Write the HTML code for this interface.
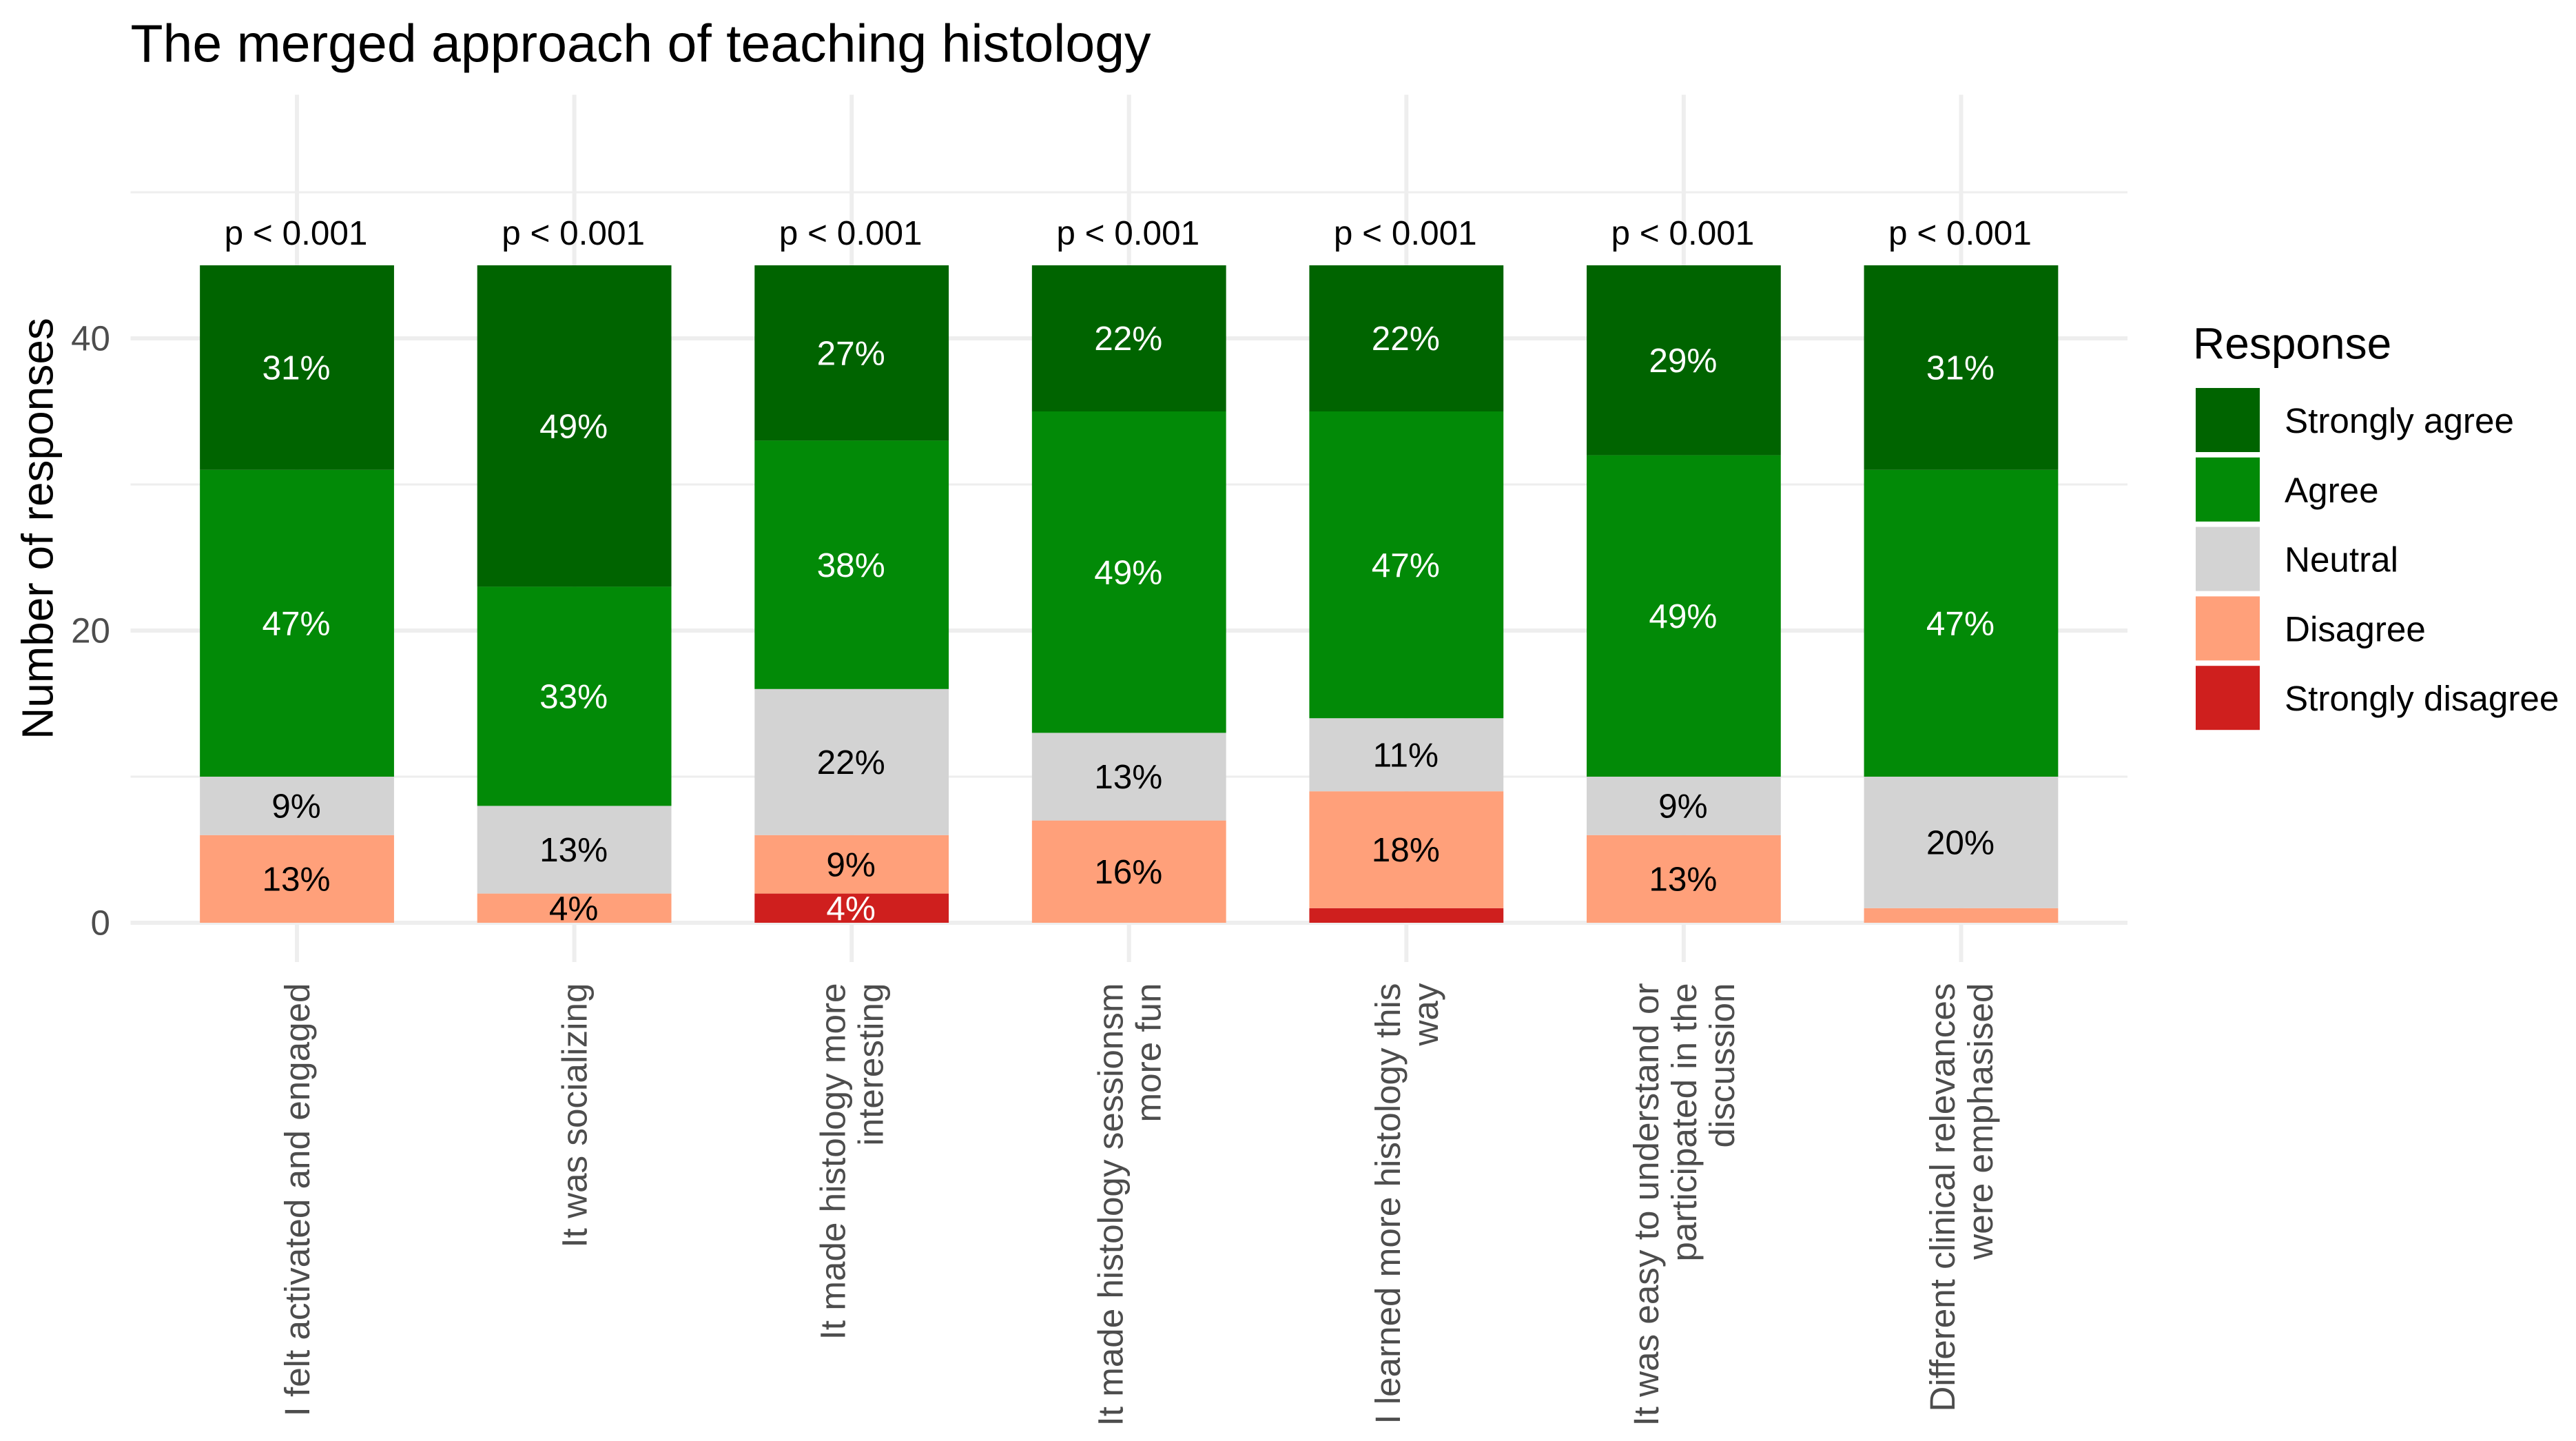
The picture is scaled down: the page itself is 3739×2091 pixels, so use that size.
<!DOCTYPE html>
<html lang="en">
<head>
<meta charset="utf-8">
<title>The merged approach of teaching histology</title>
<style>
  html, body { margin: 0; padding: 0; background: #ffffff; }
  body { width: 3739px; height: 2091px; overflow: hidden; }
  svg { display: block; }
  text { font-family: "Liberation Sans", Arial, sans-serif; }
</style>
</head>
<body>
<svg id="chart" xmlns="http://www.w3.org/2000/svg" width="3739" height="2091" viewBox="0 0 3739 2091">
  <rect x="0" y="0" width="3739" height="2091" fill="#ffffff"/>
  <text x="189.5" y="89.3" font-size="77" fill="#000000">The merged approach of teaching histology</text>
  <g id="grid"></g>
  <g id="bars"></g>
  <g id="value-labels"></g>
  <g id="p-labels"></g>
  <g id="y-axis"></g>
  <g id="x-axis"></g>
  <text transform="translate(76.5 767) rotate(-90)" text-anchor="middle" font-size="64" fill="#000000">Number of responses</text>
  <g id="legend">
    <text x="3183" y="520.5" font-size="64" fill="#000000">Response</text>
  </g>
</svg>
<script>
// ---- chart data ----
const categoryLines = [
  ["I felt activated and engaged"],
  ["It was socializing"],
  ["It made histology more", "interesting"],
  ["It made histology sessionsm", "more fun"],
  ["I learned more histology this", "way"],
  ["It was easy to understand or", "participated in the", "discussion"],
  ["Different clinical relevances", "were emphasised"]
];
const seriesNames = ["Strongly disagree", "Disagree", "Neutral", "Agree", "Strongly agree"];
const stronglyDisagree = [0, 0, 2, 0, 1, 0, 0];
const disagree = [6, 2, 4, 7, 8, 6, 1];
const neutral = [4, 6, 10, 6, 5, 4, 9];
const agree = [21, 15, 17, 22, 21, 22, 21];
const stronglyAgree = [14, 22, 12, 10, 10, 13, 14];
const pValues = ["p < 0.001", "p < 0.001", "p < 0.001", "p < 0.001", "p < 0.001", "p < 0.001", "p < 0.001"];
const yMajorTicks = [0, 20, 40];
const yMinorTicks = [10, 30, 50];
const legendOrder = ["Strongly agree", "Agree", "Neutral", "Disagree", "Strongly disagree"];

// ---- appearance ----
const seriesValues = [stronglyDisagree, disagree, neutral, agree, stronglyAgree];
const fills = {"Strongly agree": "#006400", "Agree": "#028A07", "Neutral": "#D3D3D3", "Disagree": "#FFA07A", "Strongly disagree": "#CF1F1E"};
const labelColors = {"Strongly agree": "#ffffff", "Agree": "#ffffff", "Neutral": "#000000", "Disagree": "#000000", "Strongly disagree": "#ffffff"};
const panel = {left: 189.5, right: 3088, top: 137.5, bottom: 1396};
const SVGNS = "http://www.w3.org/2000/svg";

// ---- axis functions ----
function xScale(i) {
  const domainMin = 0.4, domainMax = categoryLines.length + 0.6;
  return panel.left + ((i + 1) - domainMin) / (domainMax - domainMin) * (panel.right - panel.left);
}
function yScale(v) {
  return 1339 - v * 21.2;
}
const bandWidth = (panel.right - panel.left) / (categoryLines.length + 0.2);
const barWidth = bandWidth * 0.7;

function make(tag, attrs, parent, content) {
  const el = document.createElementNS(SVGNS, tag);
  for (const k in attrs) el.setAttribute(k, attrs[k]);
  if (content !== undefined) el.textContent = content;
  parent.appendChild(el);
  return el;
}
const gridG = document.getElementById("grid");
const barsG = document.getElementById("bars");
const valG = document.getElementById("value-labels");
const pG = document.getElementById("p-labels");
const yG = document.getElementById("y-axis");
const xG = document.getElementById("x-axis");
const legendG = document.getElementById("legend");

// ---- grid ----
yMinorTicks.forEach(function (t) {
  const line = make("line", {x1: panel.left, x2: panel.right, y1: yScale(t), y2: yScale(t), stroke: "#EEEEEE", "stroke-width": 3}, gridG);
  
  
});
yMajorTicks.forEach(function (t) {
  const line = make("line", {x1: panel.left, x2: panel.right, y1: yScale(t), y2: yScale(t), stroke: "#EEEEEE", "stroke-width": 6}, gridG);
  
  
});
categoryLines.forEach(function (c, i) {
  const line = make("line", {x1: xScale(i), x2: xScale(i), y1: panel.top, y2: panel.bottom, stroke: "#EEEEEE", "stroke-width": 6}, gridG);
  
  
});

// ---- stacked bars and labels ----
categoryLines.forEach(function (c, i) {
  const total = seriesValues.reduce(function (sum, s) { return sum + s[i]; }, 0);
  let base = 0;
  seriesValues.forEach(function (s, k) {
    const v = s[i];
    if (v <= 0) return;
    const name = seriesNames[k];
    const slug = name.toLowerCase().replace(/ /g, '-');
    const rect = make("rect", {x: xScale(i) - barWidth / 2, y: yScale(base + v), width: barWidth, height: yScale(base) - yScale(base + v), fill: fills[name]}, barsG);
    
    
    const pct = Math.round(v / total * 100);
    if (pct >= 3) {
      const label = make("text", {x: xScale(i) - 1, y: yScale(base + v / 2) + 17.2, "text-anchor": "middle", "font-size": 49.5, fill: labelColors[name]}, valG, pct + "%");
      
      
    }
    base += v;
  });
  const p = make("text", {x: xScale(i) - 1.5, y: yScale(total) - 30, "text-anchor": "middle", "font-size": 49.5, fill: "#000000"}, pG, pValues[i]);
  
  
});

// ---- y axis ----
yMajorTicks.forEach(function (t) {
  const tick = make("text", {x: 160, y: yScale(t) + 17.5, "text-anchor": "end", "font-size": 51.2, fill: "#4D4D4D"}, yG, String(t));
  
  
});

// ---- x axis ----
categoryLines.forEach(function (lines, i) {
  const lineGap = 55;
  const firstOffset = 18 - (lines.length - 1) * lineGap / 2;
  lines.forEach(function (ln, j) {
    const bx = xScale(i) + firstOffset + j * lineGap;
    const t = make("text", {transform: "translate(" + bx + " 1426.5) rotate(-90)", "text-anchor": "end", "font-size": 51.2, fill: "#4D4D4D"}, xG, ln);
    
    
  });
});

// ---- legend ----
legendOrder.forEach(function (name, i) {
  const slug = name.toLowerCase().replace(/ /g, '-');
  const rowTop = 563 + i * 100.8;
  const key = make("rect", {x: 3187, y: rowTop, width: 93, height: 93, fill: fills[name]}, legendG);
  
  
  const text = make("text", {x: 3316, y: rowTop + 65, "font-size": 51.2, fill: "#000000"}, legendG, name);
  
  
});
</script>
</body>
</html>
